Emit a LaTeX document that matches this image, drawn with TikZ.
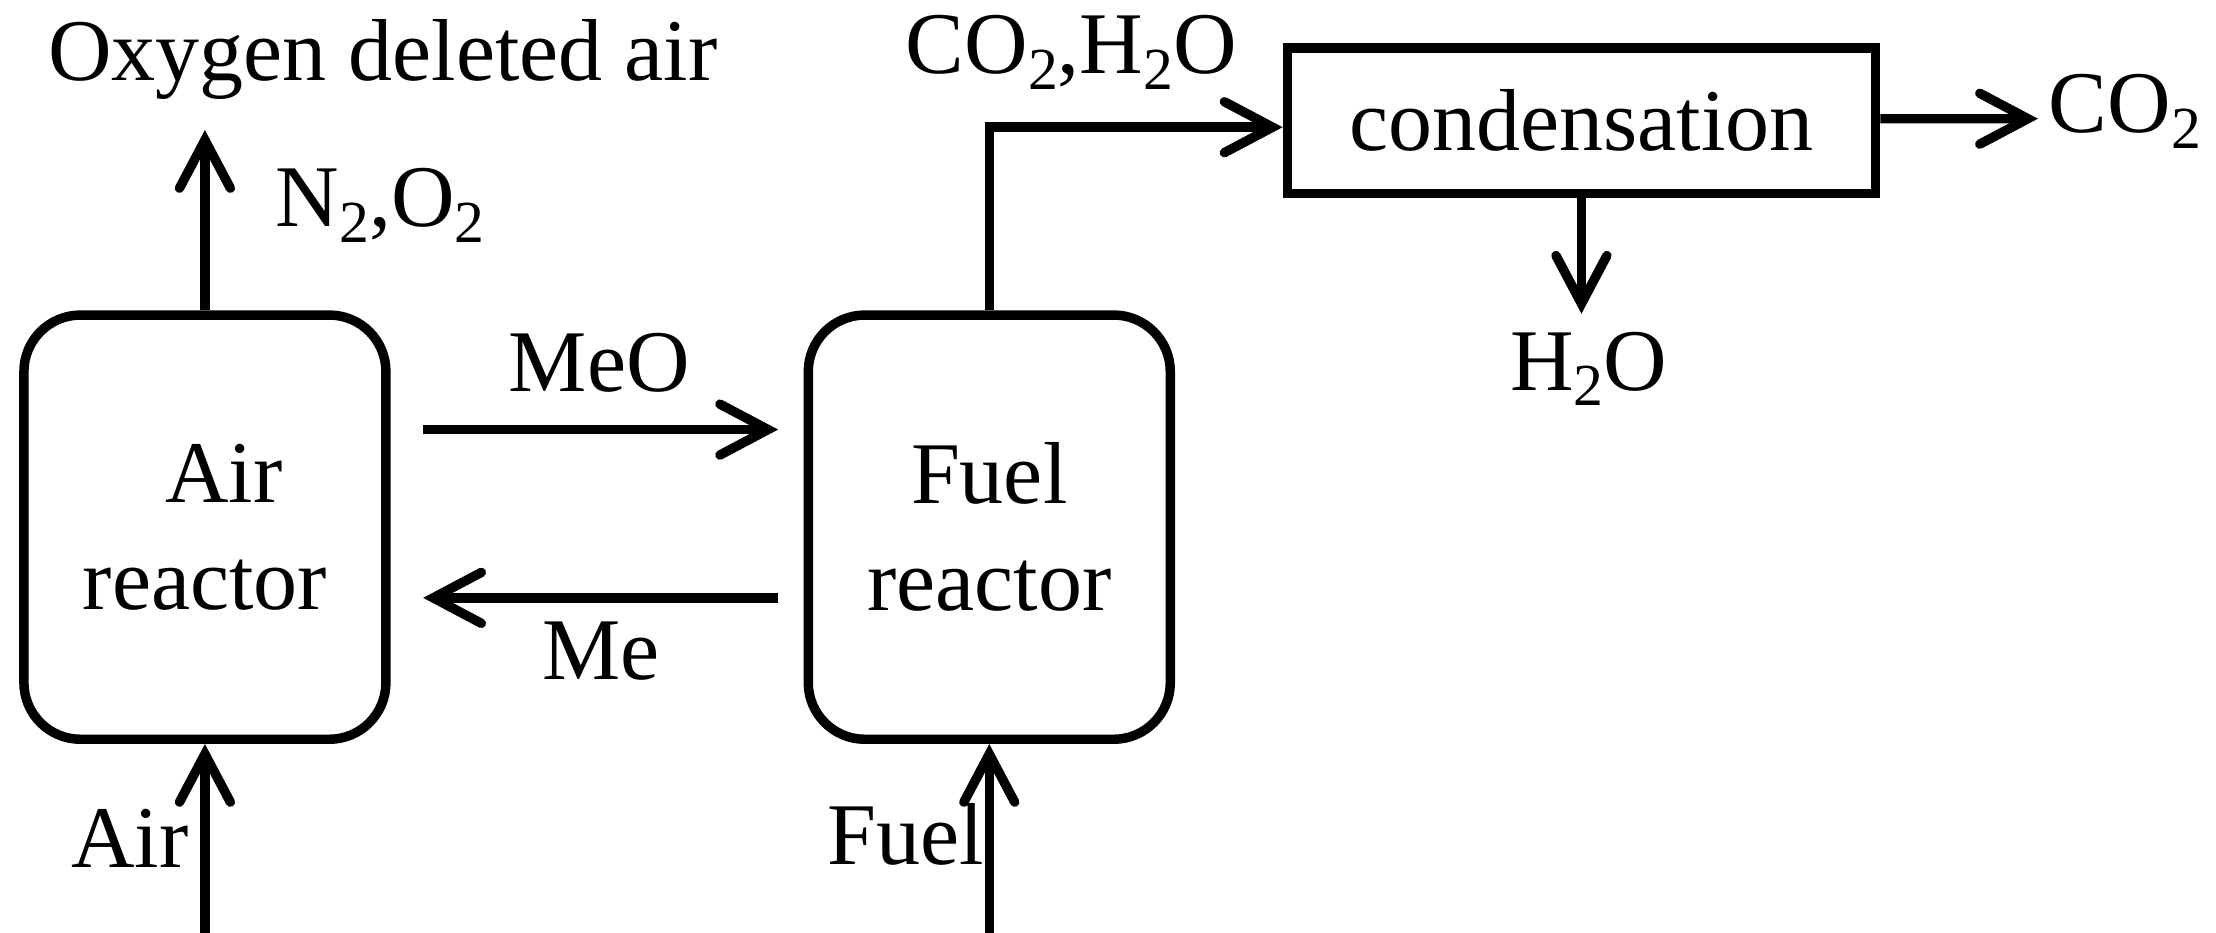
\documentclass[tikz,border=0pt]{standalone}
\usepackage{fontspec}
\setmainfont{Liberation Serif}
\usetikzlibrary{arrows.meta,calc}
\newcommand\sbs[1]{\raisebox{-3.2pt}{\fontsize{12}{12}\selectfont #1}}
\begin{document}
\begin{tikzpicture}[x=0.01cm,y=-0.01cm,
  font=\fontsize{17.7}{21.6}\selectfont,
  reactor/.style={draw,line width=1.9pt,rounded corners=0.4cm,minimum width=2.56cm,minimum height=3cm,align=center,inner sep=0pt},
  procbox/.style={draw,line width=1.9pt,minimum width=4.16cm,minimum height=1.03cm,inner sep=0pt},
  flow/.style={line width=1.9pt,-{Straight Barb[length=0.34cm,width=0.36cm,line cap=round]}},
  lbl/.style={inner sep=0pt}]
\useasboundingbox (0,0) rectangle (1568,660);
\node[reactor] (air) at (145,373) {\hspace*{0.27cm}Air\\reactor};
\node[reactor] (fuel) at (700,373) {Fuel\\reactor};
\node[procbox] (cond) at (1119,85.5) {condensation};
\node[lbl,anchor=base] (oda) at (271,57) {Oxygen deleted air};
\node[lbl,anchor=base] (n2o2) at (269,160) {N\sbs{2},O\sbs{2}};
\node[lbl,anchor=base] (meo) at (424,277) {MeO};
\node[lbl,anchor=base] (me) at (425,481) {Me};
\node[lbl,anchor=base east] (airin) at (134,614) {Air};
\node[lbl,anchor=base east] (fuelin) at (697,612) {Fuel};
\node[lbl,anchor=base] (coh) at (758,52) {CO\sbs{2},H\sbs{2}O};
\node[lbl,anchor=base west] (co2) at (1449,94) {CO\sbs{2}};
\node[lbl,anchor=base] (h2o) at (1124,276) {H\sbs{2}O};
\coordinate (airout) at (145,92);
\coordinate (airsrc) at (145,660);
\coordinate (fuelsrc) at (700,660);
\coordinate (co2end) at (1442,84);
\coordinate (h2oend) at (1119,222);
\draw[flow] (air.north) -- (airout);
\draw[flow,shorten <=0.23cm,shorten >=0.18cm] ([yshift=0.69cm]air.east) -- ([yshift=0.69cm]fuel.west);
\draw[flow,shorten <=0.18cm,shorten >=0.23cm] ([yshift=-0.5cm]fuel.west) -- ([yshift=-0.5cm]air.east);
\draw[flow] (airsrc) -- (air.south);
\draw[flow] (fuelsrc) -- (fuel.south);
\draw[flow] (fuel.north) |- ([yshift=-0.045cm]cond.west);
\draw[flow] ([yshift=0.015cm]cond.east) -- (co2end);
\draw[flow] (cond.south) -- (h2oend);
\end{tikzpicture}
\end{document}
